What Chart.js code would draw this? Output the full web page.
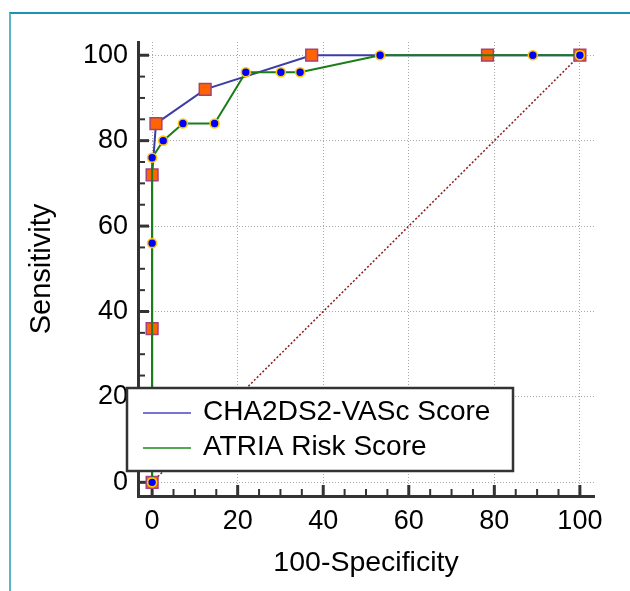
<!DOCTYPE html>
<html>
<head>
<meta charset="utf-8">
<title>ROC curves</title>
<script src="https://cdn.jsdelivr.net/npm/chart.js@4.4.1/dist/chart.umd.min.js"></script>
<style>
  html, body { margin: 0; padding: 0; background: #fff; }
  #wrap { position: relative; width: 630px; height: 591px; overflow: hidden; }
  #frame { position: absolute; left: 9px; top: 12px; right: -4px; bottom: -4px;
           border-left: 2px solid #5ab5cb; border-top: 2px solid #1b93b5; }
  canvas { position: absolute; left: 0; top: 0; }
</style>
</head>
<body>
<div id="wrap">
  <div id="frame"></div>
  <canvas id="roc" width="630" height="591"></canvas>
</div>
<script>
// ROC data
const chaLabel = 'CHA2DS2-VASc Score';
const chaX = [0, 0, 0, 0.9, 12.4, 37.3, 78.4, 100];
const chaY = [0, 36, 72, 84, 92, 100, 100, 100];

const atriaLabel = 'ATRIA Risk Score';
const atriaX = [0, 0, 0, 2.6, 7.2, 14.6, 21.9, 30.1, 34.6, 53.3, 89, 100];
const atriaY = [0, 56, 76, 80, 84, 84, 96, 96, 96, 100, 100, 100];

// reference diagonal
const refX = [0, 100];
const refY = [0, 100];

// axis ticks
const majorTicks = [0, 20, 40, 60, 80, 100];
const minorStep = 5;

const FONT = "'Liberation Sans', Arial, sans-serif";

const toPoints = (xs, ys) => xs.map((x, i) => ({ x, y: ys[i] }));

// Tick marks on the inside of the axes (major every 20, minor every 5)
const tickMarks = {
  id: 'tickMarks',
  beforeDatasetsDraw(chart) {
    const { ctx, chartArea, scales: { x, y } } = chart;
    ctx.save();
    ctx.strokeStyle = '#333';
    for (let v = 0; v <= 100; v += minorStep) {
      const major = v % 20 === 0;
      const len = major ? 11 : 7;
      ctx.lineWidth = major ? 3 : 2;
      const px = x.getPixelForValue(v);
      ctx.beginPath();
      ctx.moveTo(px, chartArea.bottom);
      ctx.lineTo(px, chartArea.bottom - len);
      ctx.stroke();
      const py = y.getPixelForValue(v);
      ctx.beginPath();
      ctx.moveTo(chartArea.left, py);
      ctx.lineTo(chartArea.left + len, py);
      ctx.stroke();
    }
    ctx.restore();
  }
};

// Boxed legend sitting over the lower left of the plot
const boxLegend = {
  id: 'boxLegend',
  afterDraw(chart) {
    const { ctx } = chart;
    const items = chart.data.datasets.filter(d => d.inLegend);
    items.sort((a, b) => a.legendRank - b.legendRank);
    ctx.save();
    ctx.fillStyle = '#fff';
    ctx.fillRect(127, 388, 386, 83);
    ctx.strokeStyle = '#333';
    ctx.lineWidth = 2.5;
    ctx.strokeRect(127, 388, 386, 83);
    ctx.font = '28px ' + FONT;
    ctx.textBaseline = 'middle';
    items.forEach((d, i) => {
      const ly = 413 + i * 35;
      ctx.strokeStyle = d.legendColor;
      ctx.lineWidth = 1.5;
      ctx.beginPath();
      ctx.moveTo(143, ly);
      ctx.lineTo(191, ly);
      ctx.stroke();
      ctx.fillStyle = '#000';
      ctx.fillText(d.label, 203, ly - 1);
    });
    ctx.restore();
  }
};

const ctx = document.getElementById('roc').getContext('2d');

new Chart(ctx, {
  type: 'line',
  data: {
    datasets: [
      {
        label: atriaLabel,
        data: toPoints(atriaX, atriaY),
        borderColor: '#1a7d1a',
        borderWidth: 2,
        pointStyle: 'circle',
        pointRadius: 4.5,
        pointBackgroundColor: '#0000ff',
        pointBorderColor: '#ffc800',
        pointBorderWidth: 1.6,
        tension: 0,
        order: 0,
        inLegend: true,
        legendRank: 1,
        legendColor: '#1a8a1a'
      },
      {
        label: chaLabel,
        data: toPoints(chaX, chaY),
        borderColor: '#3d3da6',
        borderWidth: 2,
        pointStyle: 'rect',
        pointRadius: 8.3,
        pointBackgroundColor: '#ff6400',
        pointBorderColor: '#a3437a',
        pointBorderWidth: 1.5,
        tension: 0,
        order: 1,
        inLegend: true,
        legendRank: 0,
        legendColor: '#4848c0'
      },
      {
        label: 'Reference',
        data: toPoints(refX, refY),
        borderColor: '#8b1a1a',
        borderWidth: 1.5,
        borderDash: [2, 2],
        pointRadius: 0,
        order: 2
      }
    ]
  },
  options: {
    responsive: false,
    animation: false,
    events: [],
    layout: { padding: { top: 42, right: 36, left: 0, bottom: 0 } },
    plugins: {
      legend: { display: false },
      tooltip: { enabled: false }
    },
    scales: {
      x: {
        type: 'linear',
        min: -3.3,
        max: 103.3,
        afterBuildTicks: s => { s.ticks = majorTicks.map(v => ({ value: v })); },
        afterFit: s => { s.height = 95; },
        grid: { color: '#a8a8a8', lineWidth: 1, drawTicks: false },
        border: { color: '#333', width: 3, dash: [1, 2] },
        ticks: {
          padding: 9,
          color: '#000',
          autoSkip: false,
          maxRotation: 0,
          font: { family: FONT, size: 27 }
        },
        title: {
          display: true,
          text: '100-Specificity',
          color: '#000',
          font: { family: FONT, size: 28.5 },
          padding: { top: 0, bottom: 11 }
        }
      },
      y: {
        type: 'linear',
        min: -3.2,
        max: 103.1,
        afterBuildTicks: s => { s.ticks = majorTicks.map(v => ({ value: v })); },
        afterFit: s => { s.width = 138; },
        grid: { color: '#a8a8a8', lineWidth: 1, drawTicks: false },
        border: { color: '#333', width: 3, dash: [1, 2] },
        ticks: {
          padding: 10,
          color: '#000',
          autoSkip: false,
          font: { family: FONT, size: 27 }
        },
        title: {
          display: true,
          text: 'Sensitivity',
          color: '#000',
          font: { family: FONT, size: 29 },
          padding: { top: 25, bottom: 0 }
        }
      }
    }
  },
  plugins: [tickMarks, boxLegend]
});
</script>
</body>
</html>
